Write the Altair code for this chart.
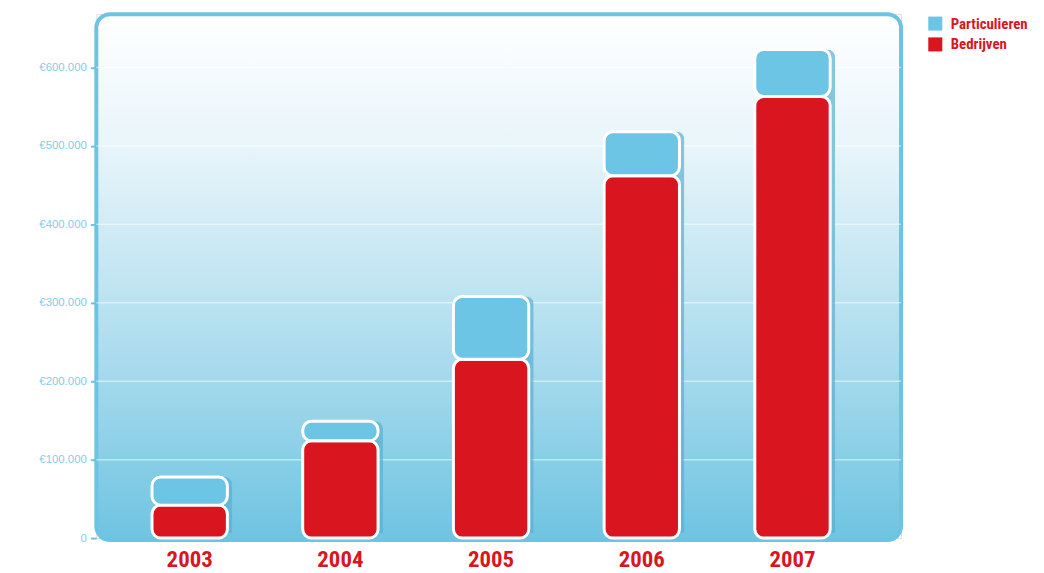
import altair as alt
import pandas as pd

years = ["2003", "2004", "2005", "2006", "2007"]
bedrijven = [42000, 124000, 228000, 462000, 563000]
particulieren = [36000, 25000, 80000, 56000, 60000]
series = ["Particulieren", "Bedrijven"]
colors = ["#6cc5e4", "#d9161f"]
y_ticks = [0, 100000, 200000, 300000, 400000, 500000, 600000]

rows = []
for y, b, p in zip(years, bedrijven, particulieren):
    rows.append({"jaar": y, "serie": "Bedrijven", "waarde": b, "ord": 0})
    rows.append({"jaar": y, "serie": "Particulieren", "waarde": p, "ord": 1})
df = pd.DataFrame(rows)
tot = pd.DataFrame({"jaar": years, "totaal": [b + p for b, p in zip(bedrijven, particulieren)]})
grid = pd.DataFrame({"v": y_ticks[1:]})

W, H = 811, 528
FONT = "Roboto Condensed, Open Sans Condensed, DejaVu Sans Condensed, sans-serif"

gradient = alt.LinearGradient(
    gradient="linear", x1=0, y1=0, x2=0, y2=1,
    stops=[alt.GradientStop(offset=0, color="#ffffff"),
           alt.GradientStop(offset=0.25, color="#e8f5fa"),
           alt.GradientStop(offset=0.6, color="#b3dfef"),
           alt.GradientStop(offset=1, color="#6ec4e1")])

xenc = alt.X("jaar:N", title=None,
             scale=alt.Scale(paddingInner=0.5, paddingOuter=0.42, align=0.44),
             axis=alt.Axis(labelAngle=0, labelColor="#d9161f", labelFont=FONT,
                           labelFontSize=23, labelFontWeight="bold", domain=False,
                           ticks=False, labelPadding=11, grid=False))
yscale = alt.Scale(domain=[0, 668000], nice=False)

panel = alt.Chart(pd.DataFrame({"p": [0]})).mark_rect(
    color=gradient, cornerRadius=14, stroke="#6cc3e3", strokeWidth=4
).encode(x=alt.value(0), x2=alt.value(W), y=alt.value(0), y2=alt.value(H + 2))

gridlines = alt.Chart(grid).mark_rule(color="#ffffff", opacity=0.5, strokeWidth=1.5).encode(
    y=alt.Y("v:Q", scale=yscale)
)

shadow = alt.Chart(tot).mark_bar(
    cornerRadius=8, color="#5aafd2", opacity=0.7, xOffset=5, yOffset=-5
).encode(
    x=xenc,
    y=alt.Y("totaal:Q", scale=yscale, title=None,
            axis=alt.Axis(values=y_ticks,
                          labelExpr="datum.value == 0 ? '0' : '€' + format(datum.value/1000, 'd') + '.000'",
                          labelColor="#7fcde6", labelFontSize=11.5, labelFont="Liberation Sans, sans-serif",
                          domain=False, tickColor="#6cc3e3", tickSize=6, tickWidth=2,
                          grid=False, labelPadding=4)),
)

bars = alt.Chart(df).transform_stack(
    stack="waarde", as_=["y0", "y1"], groupby=["jaar"], sort=[alt.SortField("ord")]
).mark_bar(
    cornerRadius=9, stroke="white", strokeWidth=3
).encode(
    x=xenc,
    y=alt.Y("y0:Q", scale=yscale, title=None),
    y2="y1:Q",
    color=alt.Color("serie:N", scale=alt.Scale(domain=series, range=colors),
                    legend=alt.Legend(title=None, orient="none", legendX=838, legendY=2,
                                      symbolType="square", symbolSize=200, symbolStrokeWidth=0,
                                      labelColor="#d9161f", labelFont=FONT, labelFontSize=15,
                                      labelFontWeight="bold", labelOffset=8, rowPadding=5)),
)

chart = alt.layer(panel, gridlines, shadow, bars).properties(
    width=W, height=H, autosize="none",
    padding={"left": 89, "top": 4, "right": 136, "bottom": 33},
).configure_view(stroke=None).configure(background="white")

chart.save("out.html", embed_options={"renderer": "svg", "actions": False})
